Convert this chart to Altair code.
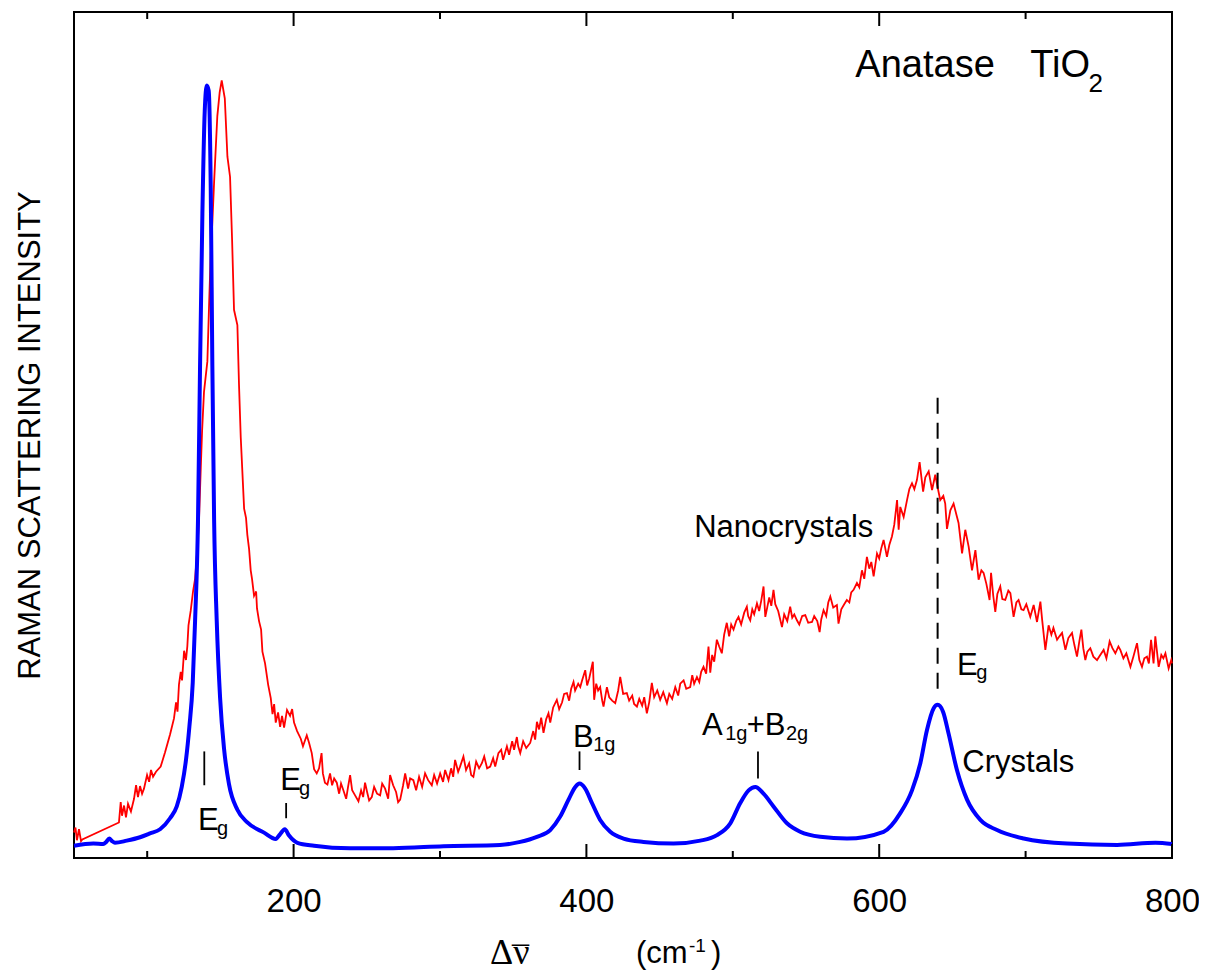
import altair as alt
import pandas as pd

# ---------------- data ----------------
# Nanocrystals (red): (Raman shift cm-1, intensity a.u. 0..100 of frame)
red_low = [
    (50.0, 3.0), (51.0, 3.6), (52.0, 2.1), (53.4, 3.4), (54.8, 2.0), (55.7, 2.2),
    (80.7, 4.2), (81.9, 6.6), (82.8, 5.0), (84.2, 6.2), (85.5, 4.8), (86.9, 6.4),
    (88.9, 5.5), (91.0, 7.0), (92.4, 8.6), (93.7, 7.2), (95.1, 8.5), (96.5, 7.6),
    (97.8, 8.2), (99.9, 9.8), (101.3, 9.0), (102.6, 10.4), (104.0, 9.6), (106.0, 10.2),
    (109.2, 10.8), (112.2, 12.5), (115.6, 14.6), (118.3, 16.5), (119.7, 18.4), (120.7, 17.3),
    (121.7, 20.5), (122.9, 22.0), (123.8, 21.0), (125.2, 24.5), (126.5, 23.4), (127.4, 25.0),
    (128.2, 27.5), (129.7, 29.2), (131.3, 31.5), (132.7, 33.0), (134.2, 36.4), (135.4, 40.0),
    (136.6, 46.1), (137.5, 50.5), (138.8, 55.1), (141.1, 58.7), (142.2, 65.0), (143.4, 71.4),
    (144.6, 75.5), (145.7, 79.9), (147.9, 87.7), (149.5, 90.5), (150.9, 91.9), (153.0, 89.8),
    (154.8, 82.9), (156.6, 80.5), (158.0, 73.0), (159.3, 64.8), (161.6, 63.0), (162.7, 56.0),
    (163.9, 49.7), (166.2, 41.3), (167.5, 40.2), (168.4, 38.2), (169.6, 36.5), (170.7, 34.0),
    (171.6, 33.0), (173.0, 31.0), (174.4, 31.5), (175.0, 29.5), (176.4, 28.0), (177.8, 27.0),
    (178.7, 24.4), (180.5, 23.0), (182.6, 20.5), (184.4, 18.9), (185.6, 17.0), (186.7, 18.2),
    (187.8, 16.0), (189.4, 17.2), (190.8, 15.5), (192.1, 16.8), (193.5, 15.4), (195.5, 17.5),
    (197.6, 16.8), (199.0, 17.6),
]
red_mid = [
    (200.3, 16.0), (202.4, 15.0), (204.9, 14.1), (206.4, 13.2), (209.0, 14.5), (210.6, 13.6),
    (212.4, 12.4), (214.0, 10.5), (215.8, 10.0), (217.4, 10.6), (219.1, 12.4), (220.0, 10.0),
    (221.4, 8.9), (223.1, 8.7), (224.9, 10.0), (226.3, 8.6), (227.7, 9.4), (229.5, 8.9),
    (231.1, 7.6), (232.4, 8.8), (234.0, 8.0), (235.9, 7.0), (237.2, 8.4), (238.6, 9.8),
    (240.0, 8.0), (242.0, 7.4), (244.3, 6.7), (246.1, 8.0), (247.5, 7.2), (248.8, 8.9),
    (250.2, 7.8), (251.6, 6.8), (253.4, 7.2), (255.0, 8.4), (257.0, 7.6), (259.1, 7.4),
    (260.5, 8.8), (262.5, 8.2), (264.6, 7.0), (265.9, 9.8), (268.0, 8.6), (270.0, 7.8),
    (271.4, 6.6), (272.8, 6.9), (274.8, 8.6), (276.2, 10.0), (278.2, 8.2), (279.6, 9.4),
    (281.8, 9.2), (283.7, 8.0), (285.7, 9.6), (287.8, 8.4), (289.8, 10.0), (291.9, 9.2),
    (294.4, 8.6), (296.0, 9.8), (298.0, 8.8), (300.1, 10.0), (302.1, 9.0), (303.5, 10.4),
    (305.8, 9.2), (307.6, 10.6), (309.0, 9.6), (310.3, 11.6), (312.4, 10.2), (313.7, 10.8),
    (316.0, 12.0), (317.8, 10.4), (319.9, 11.2), (321.3, 9.8), (322.8, 9.6), (324.7, 11.4),
    (326.7, 10.6), (328.6, 11.2), (330.2, 12.0), (332.2, 10.6), (334.3, 10.8), (336.3, 11.8),
    (337.7, 10.8), (339.9, 12.4), (341.8, 12.8), (343.1, 11.6), (345.7, 13.2), (347.2, 12.2),
    (349.3, 13.8), (350.6, 12.8), (352.5, 14.3), (353.4, 13.2), (354.8, 12.4), (356.8, 13.8),
    (358.9, 13.0), (361.6, 13.6), (363.7, 15.0), (365.0, 14.0), (366.2, 16.1), (367.7, 15.2),
    (369.1, 16.6), (370.7, 14.8), (372.5, 16.4), (374.1, 17.1), (375.3, 16.0), (377.3, 17.8),
    (379.8, 18.7), (381.4, 17.6), (383.4, 18.4), (384.8, 19.4), (386.7, 19.5), (388.2, 18.6),
    (389.6, 20.0), (391.2, 20.8), (392.3, 19.8), (394.4, 20.6), (395.8, 20.2), (397.1, 21.0),
    (399.2, 22.2), (400.5, 20.4), (401.9, 21.2), (404.4, 23.2), (405.3, 18.7), (406.7, 20.6),
    (408.0, 19.8), (409.4, 20.2), (410.8, 18.6), (411.7, 17.9), (414.0, 20.2), (415.6, 19.0),
    (417.6, 18.6), (419.7, 18.3), (421.7, 19.8), (423.1, 21.4), (425.1, 19.4), (427.6, 19.5),
    (429.2, 18.6), (431.3, 19.2), (432.6, 18.2), (434.5, 17.9), (436.1, 18.8), (438.1, 18.0),
    (439.5, 19.0), (441.3, 17.1), (442.9, 18.4), (444.7, 20.7), (446.3, 19.0), (448.4, 19.8),
]
red_high = [
    (450.4, 18.7), (452.5, 19.6), (455.0, 18.3), (456.6, 19.4), (458.6, 18.8), (460.7, 20.2),
    (462.7, 19.2), (464.1, 20.6), (466.4, 21.0), (468.2, 20.0), (470.9, 20.2), (472.3, 21.6),
    (473.6, 20.6), (475.5, 21.4), (477.1, 20.8), (478.4, 22.0), (480.0, 22.6), (481.8, 21.8),
    (483.4, 25.0), (484.6, 21.9), (485.9, 24.0), (487.3, 23.2), (489.1, 25.8), (490.7, 25.0),
    (492.5, 24.2), (494.1, 26.4), (495.9, 27.8), (497.5, 26.2), (498.9, 27.6), (500.5, 27.0),
    (502.3, 28.0), (503.9, 28.5), (505.7, 27.6), (507.8, 29.0), (509.6, 29.7), (510.5, 28.6),
    (511.9, 28.1), (513.3, 29.4), (514.6, 28.8), (516.5, 30.1), (518.0, 29.2), (519.4, 30.4),
    (521.0, 32.1), (522.2, 28.5), (523.5, 29.6), (524.9, 30.8), (526.3, 29.8), (527.8, 31.7),
    (529.0, 30.0), (531.0, 29.2), (533.6, 27.3), (535.1, 28.8), (537.2, 28.0), (539.2, 29.7),
    (540.6, 28.4), (542.0, 28.8), (543.8, 28.1), (545.4, 27.6), (547.4, 28.6), (549.5, 28.7),
    (551.5, 27.8), (554.1, 27.9), (555.6, 28.6), (557.7, 28.0), (559.3, 26.7), (560.4, 28.2),
    (562.0, 29.3), (563.8, 28.6), (565.2, 30.2), (566.6, 30.9), (568.6, 29.6), (571.1, 29.9),
    (572.2, 27.7), (574.1, 29.4), (576.1, 30.0), (577.9, 30.5), (579.6, 30.2), (580.9, 31.4),
    (582.5, 31.7), (584.8, 32.5), (586.4, 32.0), (588.2, 34.0), (589.8, 33.0), (591.6, 35.6),
    (593.2, 34.2), (594.6, 35.0), (596.2, 33.3), (598.5, 36.0), (600.0, 35.4), (601.4, 36.6),
    (603.0, 37.6), (605.3, 35.6), (606.9, 37.0), (608.7, 38.0), (610.3, 39.4), (612.2, 42.3),
    (613.3, 38.8), (614.4, 41.5), (616.7, 40.3), (619.0, 42.3), (620.6, 43.6), (622.4, 44.3),
    (624.0, 43.6), (625.8, 44.7), (627.6, 46.8), (630.0, 43.3), (631.5, 45.0), (633.8, 45.7),
    (636.1, 43.5), (638.3, 45.3), (639.7, 44.0), (641.7, 42.3), (643.8, 42.8), (645.1, 41.9),
    (646.3, 38.9), (648.6, 41.1), (650.8, 41.9), (652.7, 40.6), (654.2, 39.6), (656.6, 36.0),
    (658.8, 38.8), (661.1, 36.8), (663.4, 34.0), (665.7, 36.4), (667.9, 32.9), (669.8, 34.0),
    (671.3, 33.7), (673.2, 32.4), (675.4, 30.5), (676.4, 33.7), (677.9, 31.0), (679.3, 29.1),
    (680.7, 31.2), (682.7, 32.1), (684.1, 30.6), (686.1, 30.5), (688.2, 31.6), (689.6, 31.3),
    (691.8, 28.5), (693.7, 30.2), (695.2, 30.5), (697.1, 29.4), (698.6, 29.3), (700.5, 30.0),
    (703.2, 28.5), (705.5, 29.9), (707.8, 27.9), (710.1, 30.3), (711.4, 28.0), (713.5, 24.6),
    (715.7, 27.5), (717.6, 26.4), (719.0, 27.2), (721.5, 25.8), (723.1, 26.2), (724.9, 26.6),
    (727.2, 24.6), (729.2, 26.0), (731.7, 26.6), (733.3, 25.2), (735.1, 23.8), (736.7, 25.6),
    (738.1, 27.0), (739.4, 24.8), (740.8, 23.4), (742.2, 24.4), (744.2, 24.8), (746.3, 23.8),
    (748.8, 23.4), (751.0, 24.0), (753.3, 24.6), (755.2, 23.6), (757.4, 25.6), (759.3, 24.8),
    (761.3, 24.2), (763.4, 25.0), (764.7, 24.6), (766.8, 23.6), (768.8, 24.2), (771.6, 22.6),
    (773.6, 23.8), (776.1, 25.4), (777.7, 23.4), (779.5, 22.6), (781.1, 23.6), (782.9, 23.8),
    (784.2, 23.0), (785.7, 25.8), (787.4, 23.0), (788.6, 26.2), (790.9, 22.6), (792.7, 24.0),
    (794.1, 23.6), (795.5, 24.2), (797.7, 22.4), (799.5, 23.4), (800.0, 23.0),
]

# Crystals (blue)
blue_points = [
    (50.0, 1.45), (63.2, 1.7), (70.0, 1.65), (72.0, 1.9), (74.1, 2.3), (76.0, 2.0),
    (78.0, 1.8), (86.0, 2.05), (95.1, 2.45), (101.9, 2.9), (108.8, 3.4), (115.6, 4.7),
    (120.2, 6.1), (123.6, 8.4), (126.5, 11.6), (128.8, 15.5), (131.1, 20.7), (132.7, 28.0),
    (134.7, 40.0), (136.1, 58.2), (137.7, 76.2), (139.3, 88.3), (140.7, 91.3), (142.0, 90.7),
    (143.4, 79.2), (144.5, 58.2), (145.7, 40.0), (147.5, 28.0), (149.8, 18.9), (152.5, 12.9),
    (155.9, 8.7), (161.6, 5.7), (168.4, 4.2), (179.8, 3.0), (187.8, 2.25), (190.7, 2.8),
    (194.0, 3.4), (196.9, 2.65), (202.6, 1.8), (214.0, 1.45), (238.6, 1.15), (268.0, 1.15),
    (302.4, 1.4), (341.0, 1.55), (354.8, 1.9), (366.2, 2.5), (375.3, 3.3), (382.1, 4.9),
    (387.8, 6.9), (392.4, 8.4), (395.3, 8.8), (399.2, 8.2), (403.8, 6.5), (409.4, 4.5),
    (416.3, 3.1), (425.3, 2.3), (439.0, 1.9), (459.5, 1.7), (477.8, 2.05), (489.2, 2.7),
    (498.3, 4.1), (505.1, 6.5), (510.8, 8.0), (515.4, 8.4), (521.0, 7.6), (527.8, 6.1),
    (537.0, 4.1), (546.0, 3.1), (559.7, 2.5), (578.0, 2.3), (603.0, 3.1), (614.4, 5.3),
    (622.4, 8.0), (628.1, 11.2), (632.6, 15.1), (637.2, 17.7), (639.9, 18.1), (643.6, 17.3),
    (647.4, 14.7), (653.1, 10.4), (660.0, 6.9), (669.1, 4.5), (680.5, 3.3), (698.7, 2.3),
    (728.4, 1.7), (762.5, 1.55), (788.7, 1.8), (800.0, 1.65),
]

major_ticks = [200, 400, 600, 800]
minor_ticks = [100, 300, 500, 700]

# short mode markers
mark_wn = [139.0, 194.9, 395.3, 517.2]
mark_lo = [8.6, 4.7, 10.4, 9.4]
mark_hi = [12.6, 6.5, 12.6, 12.6]

# dashed Eg guide
guide_wn = [639.9]
guide_lo = [20.0]
guide_hi = [55.0]

# labels (left x, baseline y)
title_text = ["Anatase", "TiO"]
title_wn = [583.7, 703.2]
title_int = [92.35, 92.35]
title_sub_text = ["2"]
title_sub_wn = [742.9]
title_sub_int = [90.6]

label_text = ["Nanocrystals", "Crystals", "B", "A", "+B", "E", "E", "E"]
label_wn = [473.6, 656.8, 390.8, 478.9, 509.5, 653.1, 134.7, 190.8]
label_int = [37.94, 10.17, 13.16, 14.54, 14.54, 21.63, 3.31, 8.04]

sub_text = ["1g", "1g", "2g", "g", "g", "g"]
sub_wn = [404.6, 494.8, 536.3, 666.3, 147.7, 203.7]
sub_int = [12.6, 14.0, 14.0, 21.1, 2.7, 7.4]

# ---------------- frames ----------------
red_df = pd.DataFrame(red_low + red_mid + red_high, columns=["wn", "inten"])
blue_df = pd.DataFrame(blue_points, columns=["wn", "inten"])

W, H = 1098, 846
FONT = "Liberation Sans"

xscale = alt.Scale(domain=[50, 800], nice=False, zero=False)
yscale = alt.Scale(domain=[0, 100], nice=False, zero=False)

xaxis = alt.Axis(values=major_ticks, labelFontSize=33, labelFont=FONT, labelColor="black",
                 ticks=False, domain=False, grid=False, labelPadding=27, title=None,
                 labelFlush=False)
yaxis = alt.Axis(labels=False, ticks=False, domain=False, grid=False,
                 title="RAMAN SCATTERING INTENSITY", titleFontSize=31, titleFont=FONT,
                 titleFontWeight="normal", titleColor="black", titlePadding=28)

X = alt.X("wn:Q", scale=xscale, axis=xaxis)
Y = alt.Y("inten:Q", scale=yscale, axis=yaxis)

red = alt.Chart(red_df).mark_line(color="#ff0000", strokeWidth=1.8).encode(x=X, y=Y)
blue = alt.Chart(blue_df).mark_line(color="#0000ff", strokeWidth=4, interpolate="monotone").encode(x=X, y=Y)

major_df = pd.DataFrame({"wn": major_ticks})
minor_df = pd.DataFrame({"wn": minor_ticks})
tick_layers = []
for df, ln in ((major_df, 14), (minor_df, 7)):
    tick_layers.append(alt.Chart(df).mark_rule(color="black", strokeWidth=2).encode(
        x=alt.X("wn:Q", scale=xscale), y=alt.value(H), y2=alt.value(H - ln)))
    tick_layers.append(alt.Chart(df).mark_rule(color="black", strokeWidth=2).encode(
        x=alt.X("wn:Q", scale=xscale), y=alt.value(0), y2=alt.value(ln)))

marks_df = pd.DataFrame({"wn": mark_wn, "lo": mark_lo, "hi": mark_hi})
mode_marks = alt.Chart(marks_df).mark_rule(color="black", strokeWidth=1.8).encode(
    x=alt.X("wn:Q", scale=xscale), y=alt.Y("lo:Q", scale=yscale), y2="hi:Q")

guide_df = pd.DataFrame({"wn": guide_wn, "lo": guide_lo, "hi": guide_hi})
guide = alt.Chart(guide_df).mark_rule(color="black", strokeWidth=2, strokeDash=[16, 9]).encode(
    x=alt.X("wn:Q", scale=xscale), y=alt.Y("lo:Q", scale=yscale), y2="hi:Q")


def text_layer(texts, xs, ys, size):
    df = pd.DataFrame({"t": texts, "wn": xs, "inten": ys})
    return alt.Chart(df).mark_text(align="left", baseline="alphabetic", font=FONT,
                                   fontSize=size, color="black").encode(
        x=alt.X("wn:Q", scale=xscale), y=alt.Y("inten:Q", scale=yscale), text="t:N")


title_l = text_layer(title_text, title_wn, title_int, 38)
title_s = text_layer(title_sub_text, title_sub_wn, title_sub_int, 26)
labels_l = text_layer(label_text, label_wn, label_int, 31)
subs_l = text_layer(sub_text, sub_wn, sub_int, 20)


def px_text(txt, xpx, ypx, size, font=FONT):
    return alt.Chart(pd.DataFrame({"t": [txt]})).mark_text(
        align="left", baseline="alphabetic", font=font, fontSize=size, color="black"
    ).encode(text="t:N", x=alt.value(xpx), y=alt.value(ypx))


SERIF = "Liberation Serif"
xt0 = px_text("\u0394\u03bd", 416, 952, 36, SERIF)
xt0b = px_text("\u00af", 438, 958, 34, SERIF)
xt2 = px_text("(cm", 562, 951, 31)
xt3 = px_text("-1", 615, 940, 19)
xt4 = px_text(")", 637, 951, 31)

chart = alt.layer(
    red, blue, *tick_layers, mode_marks, guide, title_l, title_s, labels_l, subs_l,
    xt0, xt0b, xt2, xt3, xt4
).properties(
    width=W, height=H,
    autosize=alt.AutoSizeParams(type="none"),
    padding={"left": 66, "top": 4, "right": 27, "bottom": 113},
    background="white",
).configure_view(stroke="black", strokeWidth=2)

chart.save("out.html", embed_options={"renderer": "svg", "actions": False})
